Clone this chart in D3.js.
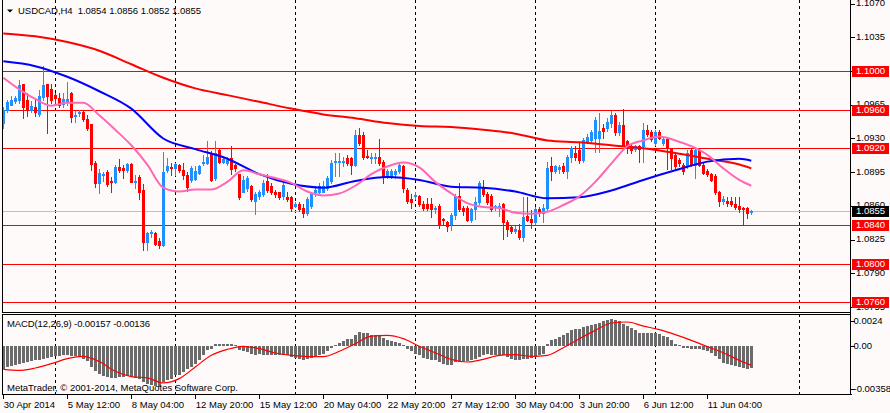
<!DOCTYPE html>
<html><head><meta charset="utf-8">
<script src="https://cdn.jsdelivr.net/npm/d3@7"></script>
<style>
html,body{margin:0;padding:0;background:#fffafa;}
svg{display:block;font-family:"Liberation Sans",Arial,sans-serif;}
</style></head><body>
<svg id="c" width="890" height="413"></svg>
<script>
const symbolTitle = "USDCAD,H4  1.0854 1.0856 1.0852 1.0855";
const macdTitle = "MACD(12,26,9) -0.00157 -0.00136";
const copyright = "MetaTrader, \u00a9 2001-2014, MetaQuotes Software Corp.";

const open = [
1.0946,1.0960,1.0965,1.0969,1.0970,1.0986,1.0970,1.0960,1.0963,1.0955,
1.0973,1.0986,1.0981,1.0975,1.0972,1.0966,1.0969,1.0977,1.0953,1.0956,
1.0957,1.0950,1.0945,1.0905,1.0884,1.0892,1.0895,1.0886,1.0885,1.0900,
1.0899,1.0897,1.0904,1.0885,1.0890,1.0877,1.0823,1.0832,1.0832,1.0824,
1.0820,1.0897,1.0900,1.0899,1.0903,1.0897,1.0892,1.0887,1.0888,1.0894,
1.0905,1.0905,1.0915,1.0889,1.0918,1.0906,1.0905,1.0910,1.0903,1.0893,
1.0875,1.0879,1.0881,1.0865,1.0870,1.0872,1.0886,1.0881,1.0875,1.0874,
1.0870,1.0869,1.0869,1.0860,1.0862,1.0858,1.0853,1.0860,1.0874,1.0874,
1.0875,1.0879,1.0886,1.0906,1.0906,1.0906,1.0910,1.0910,1.0903,1.0934,
1.0934,1.0912,1.0910,1.0910,1.0911,1.0906,1.0891,1.0891,1.0893,1.0896,
1.0901,1.0877,1.0867,1.0870,1.0870,1.0862,1.0862,1.0862,1.0857,1.0860,
1.0846,1.0843,1.0841,1.0851,1.0870,1.0858,1.0858,1.0845,1.0857,1.0864,
1.0880,1.0872,1.0870,1.0859,1.0859,1.0862,1.0843,1.0838,1.0834,1.0835,
1.0828,1.0850,1.0846,1.0843,1.0857,1.0853,1.0858,1.0901,1.0896,1.0898,
1.0901,1.0896,1.0911,1.0915,1.0918,1.0908,1.0927,1.0928,1.0930,1.0930,
1.0941,1.0941,1.0946,1.0954,1.0937,1.0944,1.0927,1.0922,1.0919,1.0922,
1.0922,1.0939,1.0937,1.0925,1.0937,1.0925,1.0929,1.0920,1.0913,1.0908,
1.0903,1.0901,1.0918,1.0903,1.0918,1.0903,1.0896,1.0893,1.0891,1.0874,
1.0865,1.0865,1.0865,1.0862,1.0860,1.0858,1.0858,1.0854];
const high = [
1.0963,1.0970,1.0974,1.0974,1.0991,1.0986,1.0977,1.0969,1.0972,1.0980,
1.1005,1.0986,1.0986,1.0977,1.0977,1.0977,1.0989,1.0978,1.0958,1.0960,
1.0960,1.0954,1.0945,1.0907,1.0898,1.0895,1.0897,1.0890,1.0902,1.0909,
1.0902,1.0905,1.0905,1.0892,1.0892,1.0883,1.0833,1.0835,1.0833,1.0827,
1.0916,1.0910,1.0905,1.0905,1.0904,1.0905,1.0895,1.0901,1.0901,1.0903,
1.0913,1.0927,1.0917,1.0927,1.0920,1.0911,1.0911,1.0922,1.0904,1.0893,
1.0891,1.0891,1.0882,1.0875,1.0877,1.0887,1.0893,1.0884,1.0877,1.0875,
1.0886,1.0875,1.0870,1.0864,1.0864,1.0862,1.0869,1.0874,1.0879,1.0884,
1.0886,1.0891,1.0908,1.0915,1.0915,1.0911,1.0913,1.0911,1.0939,1.0941,
1.0937,1.0918,1.0915,1.0915,1.0929,1.0908,1.0898,1.0898,1.0898,1.0905,
1.0903,1.0879,1.0872,1.0874,1.0871,1.0865,1.0868,1.0868,1.0860,1.0862,
1.0848,1.0844,1.0853,1.0872,1.0884,1.0860,1.0860,1.0858,1.0869,1.0886,
1.0887,1.0874,1.0872,1.0861,1.0863,1.0863,1.0845,1.0840,1.0839,1.0841,
1.0869,1.0869,1.0856,1.0859,1.0859,1.0862,1.0906,1.0911,1.0903,1.0903,
1.0905,1.0913,1.0922,1.0922,1.0925,1.0930,1.0935,1.0939,1.0952,1.0956,
1.0945,1.0951,1.0958,1.0956,1.0947,1.0961,1.0928,1.0925,1.0923,1.0923,
1.0946,1.0944,1.0939,1.0939,1.0939,1.0930,1.0930,1.0920,1.0914,1.0910,
1.0905,1.0918,1.0920,1.0920,1.0920,1.0905,1.0898,1.0894,1.0893,1.0876,
1.0870,1.0869,1.0869,1.0869,1.0869,1.0859,1.0859,1.0856];
const low = [
1.0941,1.0957,1.0965,1.0967,1.0967,1.0951,1.0953,1.0957,1.0953,1.0953,
1.0970,1.0936,1.0967,1.0965,1.0963,1.0963,1.0965,1.0947,1.0947,1.0953,
1.0948,1.0939,1.0897,1.0880,1.0873,1.0886,1.0881,1.0875,1.0884,1.0895,
1.0889,1.0895,1.0885,1.0879,1.0867,1.0814,1.0814,1.0828,1.0820,1.0816,
1.0818,1.0895,1.0892,1.0892,1.0895,1.0888,1.0876,1.0885,1.0887,1.0893,
1.0903,1.0904,1.0886,1.0887,1.0905,1.0905,1.0903,1.0893,1.0896,1.0867,
1.0874,1.0876,1.0865,1.0852,1.0867,1.0870,1.0875,1.0872,1.0869,1.0867,
1.0867,1.0865,1.0855,1.0859,1.0855,1.0849,1.0851,1.0858,1.0870,1.0872,
1.0874,1.0877,1.0884,1.0891,1.0891,1.0901,1.0903,1.0893,1.0901,1.0923,
1.0909,1.0910,1.0905,1.0905,1.0903,1.0884,1.0889,1.0889,1.0889,1.0894,
1.0875,1.0863,1.0858,1.0867,1.0860,1.0856,1.0856,1.0849,1.0853,1.0837,
1.0841,1.0834,1.0835,1.0846,1.0855,1.0851,1.0844,1.0843,1.0846,1.0862,
1.0870,1.0862,1.0855,1.0856,1.0850,1.0826,1.0829,1.0832,1.0832,1.0826,
1.0824,1.0844,1.0837,1.0841,1.0850,1.0843,1.0856,1.0887,1.0894,1.0894,
1.0894,1.0889,1.0906,1.0908,1.0905,1.0906,1.0925,1.0926,1.0916,1.0916,
1.0931,1.0938,1.0942,1.0934,1.0934,1.0923,1.0915,1.0915,1.0917,1.0906,
1.0906,1.0933,1.0927,1.0923,1.0929,1.0923,1.0898,1.0898,1.0899,1.0901,
1.0893,1.0899,1.0901,1.0889,1.0901,1.0893,1.0891,1.0886,1.0872,1.0860,
1.0862,1.0860,1.0860,1.0857,1.0854,1.0841,1.0848,1.0852];
const close = [
1.0960,1.0968,1.0970,1.0972,1.0985,1.0963,1.0960,1.0964,1.0957,1.0974,
1.0985,1.0974,1.0970,1.0972,1.0965,1.0971,1.0971,1.0952,1.0954,1.0957,
1.0950,1.0941,1.0904,1.0884,1.0894,1.0893,1.0883,1.0885,1.0900,1.0897,
1.0897,1.0904,1.0885,1.0886,1.0875,1.0823,1.0832,1.0833,1.0821,1.0820,
1.0895,1.0901,1.0899,1.0904,1.0897,1.0892,1.0880,1.0899,1.0896,1.0901,
1.0906,1.0911,1.0887,1.0915,1.0906,1.0909,1.0908,1.0898,1.0899,1.0869,
1.0887,1.0889,1.0867,1.0872,1.0874,1.0884,1.0877,1.0874,1.0872,1.0869,
1.0882,1.0867,1.0858,1.0862,1.0857,1.0853,1.0867,1.0872,1.0877,1.0881,
1.0881,1.0889,1.0905,1.0907,1.0907,1.0907,1.0905,1.0903,1.0934,1.0925,
1.0911,1.0911,1.0911,1.0911,1.0905,1.0891,1.0896,1.0896,1.0896,1.0903,
1.0879,1.0865,1.0864,1.0871,1.0862,1.0858,1.0858,1.0857,1.0858,1.0841,
1.0845,1.0839,1.0851,1.0870,1.0857,1.0855,1.0845,1.0857,1.0864,1.0884,
1.0872,1.0864,1.0857,1.0860,1.0860,1.0843,1.0836,1.0834,1.0836,1.0828,
1.0849,1.0845,1.0843,1.0857,1.0853,1.0858,1.0899,1.0896,1.0901,1.0900,
1.0896,1.0911,1.0920,1.0911,1.0908,1.0928,1.0932,1.0937,1.0949,1.0938,
1.0938,1.0947,1.0954,1.0937,1.0944,1.0923,1.0920,1.0918,1.0922,1.0919,
1.0939,1.0935,1.0929,1.0937,1.0930,1.0929,1.0920,1.0910,1.0901,1.0905,
1.0896,1.0915,1.0903,1.0918,1.0903,1.0894,1.0893,1.0887,1.0874,1.0865,
1.0867,1.0863,1.0862,1.0859,1.0857,1.0857,1.0853,1.0855];

// moving averages, read at sampled bars
const maIdx = [0,8,16,24,32,40,48,56,64,72,80,88,96,104,112,120,128,136,144,152,160,168,176,184,187];
const redMA = [1.1039,1.1036,1.1030,1.1021,1.1007,1.0993,1.0982,1.0975,1.0968,1.0961,1.0955,1.0951,1.0946,1.0943,1.0942,1.0939,1.0935,1.0928,1.0926,1.0923,1.0920,1.0915,1.0909,1.0903,1.0899];
const blueMA = [1.1010,1.1005,1.0994,1.0979,1.0961,1.0930,1.0919,1.0909,1.0893,1.0883,1.0879,1.0886,1.0890,1.0887,1.0880,1.0879,1.0875,1.0868,1.0869,1.0876,1.0887,1.0897,1.0906,1.0909,1.0907];
const pinkIdx = [0,4,8,12,16,20,24,28,32,36,40,44,48,52,56,60,64,68,72,76,80,84,88,92,96,100,104,108,112,116,120,124,128,132,136,140,144,148,152,156,160,164,168,172,176,180,184,187];
const pinkMA = [1.0993,1.0981,1.0971,1.0964,1.0967,1.0967,1.0954,1.0939,1.0923,1.0903,1.0879,1.0875,1.0877,1.0877,1.0885,1.0897,1.0893,1.0889,1.0884,1.0875,1.0871,1.0873,1.0881,1.0893,1.0901,1.0905,1.0900,1.0885,1.0873,1.0863,1.0859,1.0858,1.0853,1.0852,1.0854,1.0861,1.0870,1.0885,1.0904,1.0922,1.0928,1.0932,1.0928,1.0922,1.0913,1.0899,1.0887,1.0881];

const macdHist = [
-0.00161,-0.00149,-0.00142,-0.00137,-0.00125,-0.00118,-0.00113,-0.00108,-0.00101,-0.00096,
-0.00089,-0.00082,-0.00077,-0.00072,-0.00067,-0.00065,-0.00065,-0.00067,-0.00072,-0.00077,
-0.00089,-0.00108,-0.00149,-0.00180,-0.00197,-0.00214,-0.00223,-0.00228,-0.00228,-0.00223,
-0.00221,-0.00216,-0.00221,-0.00228,-0.00233,-0.00257,-0.00269,-0.00281,-0.00286,-0.00293,
-0.00257,-0.00245,-0.00233,-0.00209,-0.00204,-0.00185,-0.00166,-0.00149,-0.00125,-0.00096,
-0.00065,-0.00024,-0.00017,0.00014,0.00014,0.00017,0.00017,0.00014,0.00007,-0.00024,
-0.00036,-0.00041,-0.00053,-0.00060,-0.00058,-0.00060,-0.00062,-0.00060,-0.00062,-0.00065,
-0.00062,-0.00065,-0.00077,-0.00082,-0.00089,-0.00096,-0.00089,-0.00082,-0.00072,-0.00065,
-0.00053,-0.00036,-0.00012,0.00007,0.00026,0.00038,0.00050,0.00055,0.00079,0.00103,
0.00098,0.00096,0.00084,0.00082,0.00079,0.00060,0.00043,0.00036,0.00031,0.00024,
0.00012,-0.00017,-0.00036,-0.00053,-0.00065,-0.00082,-0.00089,-0.00101,-0.00101,-0.00113,
-0.00125,-0.00137,-0.00132,-0.00113,-0.00113,-0.00108,-0.00108,-0.00101,-0.00089,-0.00077,
-0.00060,-0.00053,-0.00060,-0.00060,-0.00065,-0.00065,-0.00077,-0.00089,-0.00096,-0.00101,
-0.00089,-0.00089,-0.00084,-0.00077,-0.00065,-0.00053,0.00019,0.00043,0.00055,0.00067,
0.00079,0.00098,0.00115,0.00122,0.00127,0.00139,0.00146,0.00156,0.00163,0.00170,
0.00180,0.00187,0.00194,0.00187,0.00180,0.00163,0.00146,0.00132,0.00115,0.00098,
0.00096,0.00098,0.00096,0.00098,0.00091,0.00074,0.00067,0.00043,0.00014,0.00007,
-0.00010,-0.00012,-0.00017,-0.00022,-0.00022,-0.00029,-0.00036,-0.00046,-0.00070,-0.00089,
-0.00118,-0.00130,-0.00137,-0.00142,-0.00149,-0.00156,-0.00161,-0.00157];
const sigIdx = [0,4,8,12,16,20,24,28,32,36,40,44,48,52,56,60,64,68,72,76,80,84,88,92,96,100,104,108,112,116,120,124,128,132,136,140,144,148,152,156,160,164,168,172,176,180,184,187];
const signal = [-0.00166,-0.00173,-0.00156,-0.00125,-0.00089,-0.00072,-0.00110,-0.00180,-0.00218,-0.00228,-0.00264,-0.00233,-0.00149,-0.00065,-0.00022,0.00000,-0.00017,-0.00048,-0.00065,-0.00074,-0.00074,-0.00036,0.00019,0.00074,
0.00079,0.00055,0.00000,-0.00046,-0.00094,-0.00113,-0.00094,-0.00065,-0.00060,-0.00072,-0.00065,-0.00010,0.00055,0.00115,0.00168,0.00175,0.00146,0.00120,0.00084,0.00043,-0.00002,-0.00046,-0.00101,-0.00136];

const levels = [1.1000,1.0960,1.0920,1.0840,1.0800,1.0760];
const bidPrice = 1.0855;
const priceTicks = [1.1070,1.1035,1.1000,1.0965,1.0930,1.0895,1.0860,1.0825,1.0790,1.0755];
const timeTickIdx = [0,16,32,48,64,80,96,112,128,144,160,176];
const timeLabels = ["30 Apr 2014","5 May 12:00","8 May 04:00","12 May 20:00","15 May 12:00","20 May 04:00","22 May 20:00","27 May 12:00","30 May 04:00","3 Jun 20:00","6 Jun 12:00","11 Jun 04:00"];
const gridIdx = [13,43,73,103,133,163,199];
const macdAxisLabels = ["0.0024","0.00","-0.00358"];
const macdRange = [-0.00358, 0.0024];

// ---------- layout ----------
const svg = d3.select("#c");
const L = 2, R = 850.5;
const mainBottom = 312, macdTop = 314, macdBottom = 395;
const FS = "9.5px";

svg.append("rect").attr("width",890).attr("height",413).attr("fill","#fffafa");
const defs = svg.append("defs");
defs.append("clipPath").attr("id","mainClip").append("rect").attr("x",3).attr("y",0).attr("width",R-3).attr("height",mainBottom);
defs.append("clipPath").attr("id","macdClip").append("rect").attr("x",3).attr("y",macdTop+1).attr("width",R-3).attr("height",macdBottom-macdTop-1);
defs.append("clipPath").attr("id","axClip").append("rect").attr("x",R).attr("y",0).attr("width",50).attr("height",mainBottom);

const x = d3.scaleLinear().domain([0,187]).range([3.3,751.3]);
const y = d3.scaleLinear().domain([1.0760,1.1000]).range([302.4,71]);
const ym = d3.scaleLinear().domain(macdRange).range([396,313]);
const cx = i => Math.round(x(i));

// ---------- main panel ----------
const main = svg.append("g").attr("clip-path","url(#mainClip)");
main.selectAll("line.grid").data(gridIdx).enter().append("line")
  .attr("x1",d=>cx(d)+0.5).attr("x2",d=>cx(d)+0.5).attr("y1",0).attr("y2",mainBottom)
  .attr("stroke","#000").attr("stroke-dasharray","3,3").attr("shape-rendering","crispEdges");
main.append("line").attr("x1",L).attr("x2",R).attr("y1",Math.round(y(bidPrice))+0.5).attr("y2",Math.round(y(bidPrice))+0.5)
  .attr("stroke","#c0c0c0").attr("shape-rendering","crispEdges");
main.selectAll("line.lvl").data(levels).enter().append("line")
  .attr("x1",L).attr("x2",R).attr("y1",d=>Math.round(y(d))+0.5).attr("y2",d=>Math.round(y(d))+0.5)
  .attr("stroke","#ff0000").attr("shape-rendering","crispEdges");

const idx = d3.range(open.length);
const col = i => close[i] >= open[i] ? "#1e90ff" : "#ff0000";
main.selectAll("line.wick").data(idx).enter().append("line")
  .attr("x1",i=>cx(i)+0.5).attr("x2",i=>cx(i)+0.5)
  .attr("y1",i=>Math.round(y(high[i]))).attr("y2",i=>Math.round(y(low[i]))+1)
  .attr("stroke",col).attr("shape-rendering","crispEdges");
main.selectAll("rect.body").data(idx).enter().append("rect")
  .attr("x",i=>cx(i)-1).attr("width",3)
  .attr("y",i=>Math.round(y(Math.max(open[i],close[i]))))
  .attr("height",i=>Math.max(1,Math.round(y(Math.min(open[i],close[i])))-Math.round(y(Math.max(open[i],close[i])))+1))
  .attr("fill",col).attr("shape-rendering","crispEdges");

function maLine(ids, vals, color){
  const line = d3.line().x((d,k)=>x(ids[k])).y(d=>y(d)).curve(d3.curveMonotoneX);
  main.append("path").datum(vals).attr("d",line).attr("fill","none")
    .attr("stroke",color).attr("stroke-width",2);
}
maLine(maIdx, redMA, "#ff0000");
maLine(maIdx, blueMA, "#0000ff");
maLine(pinkIdx, pinkMA, "#ff69b4");

// title
svg.append("path").attr("d","M7,9.5 L13,9.5 L10,12.5 Z").attr("fill","#000");
svg.append("text").attr("x",18).attr("y",11).attr("dy","0.35em").attr("font-size",FS)
  .attr("xml:space","preserve").style("white-space","pre")
  .attr("textLength",183).attr("lengthAdjust","spacing")
  .attr("fill","#000").text(symbolTitle);

// ---------- MACD panel ----------
const mp = svg.append("g").attr("clip-path","url(#macdClip)");
mp.selectAll("line.grid").data(gridIdx).enter().append("line")
  .attr("x1",d=>cx(d)+0.5).attr("x2",d=>cx(d)+0.5).attr("y1",macdTop).attr("y2",macdBottom)
  .attr("stroke","#000").attr("stroke-dasharray","3,3").attr("shape-rendering","crispEdges");
const z = Math.round(ym(0));
mp.selectAll("rect.h").data(macdHist).enter().append("rect")
  .attr("x",(d,i)=>cx(i)-1).attr("width",3)
  .attr("y",d=> d>=0 ? Math.round(ym(d)) : z)
  .attr("height",d=> Math.max(1, Math.abs(z-Math.round(ym(d)))))
  .attr("fill","#6b6b6b").attr("shape-rendering","crispEdges");
const sline = d3.line().x((d,k)=>x(sigIdx[k])).y(d=>ym(d)).curve(d3.curveMonotoneX);
mp.append("path").datum(signal).attr("d",sline).attr("fill","none").attr("stroke","#ff0000").attr("stroke-width",1.2);
svg.append("text").attr("x",7).attr("y",324).attr("dy","0.35em").attr("font-size",FS)
  .attr("textLength",143).attr("lengthAdjust","spacing").attr("fill","#000").text(macdTitle);
svg.append("text").attr("x",7).attr("y",388).attr("dy","0.35em").attr("font-size",FS)
  .attr("textLength",231).attr("lengthAdjust","spacing").attr("fill","#000").text(copyright);

// ---------- frames ----------
const frame = svg.append("g").attr("stroke","#000").attr("shape-rendering","crispEdges");
frame.append("line").attr("x1",L+0.5).attr("x2",L+0.5).attr("y1",0).attr("y2",mainBottom);
frame.append("line").attr("x1",L+0.5).attr("x2",L+0.5).attr("y1",macdTop).attr("y2",macdBottom);
frame.append("line").attr("x1",L).attr("x2",R).attr("y1",mainBottom+0.5).attr("y2",mainBottom+0.5);
frame.append("line").attr("x1",L).attr("x2",R).attr("y1",macdTop+0.5).attr("y2",macdTop+0.5);
frame.append("line").attr("x1",L).attr("x2",R+1).attr("y1",macdBottom-0.5).attr("y2",macdBottom-0.5);
frame.append("line").attr("x1",R).attr("x2",R).attr("y1",0).attr("y2",macdBottom);

// ---------- price axis ----------
const pax = svg.append("g").attr("clip-path","url(#axClip)").append("g")
  .attr("transform",`translate(${R},0)`)
  .call(d3.axisRight(y).tickValues(priceTicks).tickFormat(d3.format(".4f")).tickSize(4).tickPadding(1.5));
pax.select(".domain").remove();
pax.selectAll(".tick line").attr("stroke","#000").attr("shape-rendering","crispEdges");
pax.selectAll(".tick text").attr("font-size",FS).attr("font-family","Liberation Sans, Arial, sans-serif").attr("fill","#000").attr("dy","0.2em");

// level labels
const lvlG = svg.append("g");
levels.forEach(l=>{
  const yy = Math.round(y(l));
  lvlG.append("rect").attr("x",852).attr("y",yy-5).attr("width",37).attr("height",11).attr("fill","#ff0000");
  lvlG.append("text").attr("x",856).attr("y",yy).attr("dy","0.35em").attr("font-size",FS).attr("fill","#fff").text(d3.format(".4f")(l));
});
{
  const yy = Math.round(y(bidPrice));
  lvlG.append("rect").attr("x",852).attr("y",yy-5).attr("width",37).attr("height",11).attr("fill","#000");
  lvlG.append("text").attr("x",856).attr("y",yy).attr("dy","0.35em").attr("font-size",FS).attr("fill","#fff").text(d3.format(".4f")(bidPrice));
}

// MACD axis labels (MT4 insets the max/min labels)
const macdLabelY = [macdTop+7, Math.round(ym(0)), macdBottom-6];
macdAxisLabels.forEach((t,k)=>{
  svg.append("line").attr("x1",R).attr("x2",R+4).attr("y1",macdLabelY[k]+0.5).attr("y2",macdLabelY[k]+0.5)
    .attr("stroke","#000").attr("shape-rendering","crispEdges");
  svg.append("text").attr("x",853.5).attr("y",macdLabelY[k]).attr("dy","0.35em").attr("font-size",FS).attr("fill","#000").text(t);
});

// ---------- time axis ----------
const tax = svg.append("g").attr("transform",`translate(0,${macdBottom})`)
  .call(d3.axisBottom(x).tickValues(timeTickIdx).tickFormat((d,k)=>timeLabels[k]).tickSize(4).tickPadding(2));
tax.select(".domain").remove();
tax.selectAll(".tick line").attr("stroke","#000").attr("shape-rendering","crispEdges");
tax.selectAll(".tick text").attr("text-anchor","start").attr("x",0).attr("font-size",FS)
  .attr("font-family","Liberation Sans, Arial, sans-serif").attr("fill","#000");
</script>
</body></html>
